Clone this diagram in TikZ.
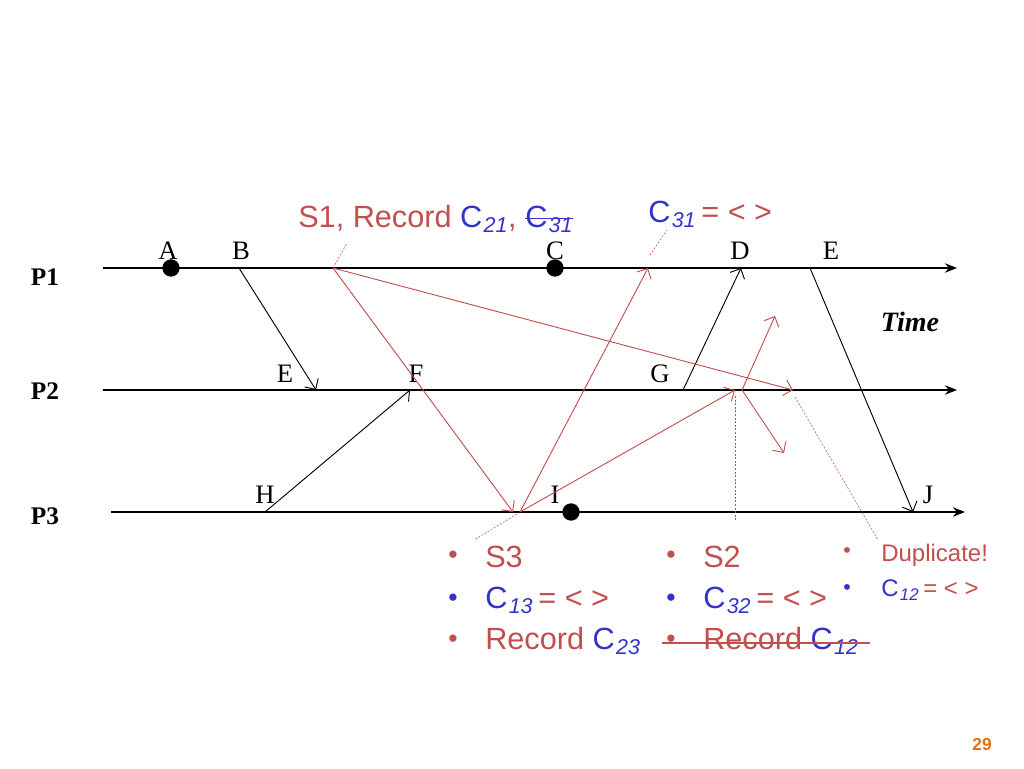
\documentclass[tikz,border=0pt]{standalone}
\usepackage{fontspec}
\setmainfont{Liberation Serif}
\setsansfont{Liberation Sans}
\definecolor{rd}{RGB}{192,80,77}
\definecolor{bl}{RGB}{51,51,204}
\definecolor{org}{RGB}{230,110,20}
\newcommand\mystrike[1]{\setbox0\hbox{#1}\rlap{\usebox0}\rule[0.28em]{\wd0}{0.7pt}}
\newcommand\Cs[1]{\textcolor{bl}{C\kern1pt\textsubscript{\itshape #1}}}
\begin{document}
\begin{tikzpicture}[x=0.75pt,y=-0.75pt,
 tl/.style={line width=1.5pt,-{Stealth[length=9pt,width=7pt]}},
 bm/.style={->,>={Straight Barb[length=6pt]},line width=0.7pt},
 rm/.style={->,>={Straight Barb[length=6pt]},draw=rd,line width=0.7pt},
 dl/.style={draw=rd,dash pattern=on 1.5pt off 1.2pt,line width=0.4pt},
 lab/.style={font=\fontsize{20}{22}\selectfont,inner sep=0pt},
 pl/.style={font=\bfseries\fontsize{19}{22}\selectfont,inner sep=0pt},
 big/.style={font=\sffamily\fontsize{23}{24}\selectfont,inner sep=0pt,anchor=west},
 sm/.style={font=\sffamily\fontsize{18}{20}\selectfont,inner sep=0pt,anchor=west},
 bul/.style={font=\sffamily\fontsize{20}{20}\selectfont,inner sep=0pt},
 dot/.style={circle,fill=black,minimum width=13pt,minimum height=11pt,inner sep=0pt}]
\useasboundingbox (0,0) rectangle (1024,768);
\usetikzlibrary{arrows.meta}
% timelines
\coordinate (p1s) at (103,268); \coordinate (p1e) at (957,268);
\coordinate (p2s) at (103,390); \coordinate (p2e) at (957,390);
\coordinate (p3s) at (111,512); \coordinate (p3e) at (965,512);
\draw[tl] (p1s) -- (p1e);
\draw[tl] (p2s) -- (p2e);
\draw[tl] (p3s) -- (p3e);
\node[pl] (P1) at (45,277) {P1};
\node[pl] (P2) at (45,391) {P2};
\node[pl] (P3) at (45,516) {P3};
\node[font=\bfseries\itshape\fontsize{21}{22}\selectfont] (time) at (910,322) {Time};
% dots
\node[dot] (dA) at (171,268) {};
\node[dot] (dC) at (555,268) {};
\node[dot] (dI) at (571,512) {};
% labels
\node[lab] (A) at (168,251) {A};
\node[lab] (B) at (241,251) {B};
\node[lab] (C) at (555,251) {C};
\node[lab] (D) at (740,251) {D};
\node[lab] (E1) at (831,251) {E};
\node[lab] (E2) at (285,374) {E};
\node[lab] (F) at (416,374) {F};
\node[lab] (G) at (660,374) {G};
\node[lab] (H) at (265,495) {H};
\node[lab] (I) at (555,495) {I};
\node[lab] (J) at (928,495) {J};
% black messages
\coordinate (b1) at (239,268); \coordinate (e2) at (316,390);
\coordinate (h1) at (265,512); \coordinate (f1) at (410,390);
\coordinate (g1) at (683,390); \coordinate (d1) at (741,268);
\coordinate (ee) at (810,268); \coordinate (j1) at (913,512);
\draw[bm] (b1) -- (e2);
\draw[bm] (h1) -- (f1);
\draw[bm] (g1) -- (d1);
\draw[bm] (ee) -- (j1);
% red markers
\coordinate (s1) at (333,268); \coordinate (s3a) at (513,512);
\coordinate (s3) at (520,512); \coordinate (m1) at (793,390);
\coordinate (c31) at (648,268); \coordinate (s2a) at (735,390);
\coordinate (s2) at (742,390); \coordinate (u1) at (775,316);
\coordinate (u2) at (784,453);
\draw[rm] (s1) -- (s3a);
\draw[rm] (s1) -- (m1);
\draw[rm] (s3) -- (c31);
\draw[rm] (s3) -- (s2a);
\draw[rm] (s2) -- (u1);
\draw[rm] (s2) -- (u2);
% dotted callouts
\coordinate (k1) at (347,243); \coordinate (k2) at (650,255); \coordinate (k2b) at (667,230);
\coordinate (k3) at (517,514); \coordinate (k3b) at (474,540);
\coordinate (k4) at (735,396); \coordinate (k4b) at (735,520);
\coordinate (k5) at (795,397); \coordinate (k5b) at (878,540);
\draw[dl] (s1) -- (k1);
\draw[dl] (k2) -- (k2b);
\draw[dl] (k3) -- (k3b);
\draw[dl] (k4) -- (k4b);
\draw[dl] (k5) -- (k5b);
% top texts
\node[big,text=rd] (t1) at (298,219) {S1, Record \Cs{21}, \textcolor{bl}{\mystrike{C\kern1pt\textsubscript{\itshape 31}}}};
\node[big,text=rd] (t2) at (648,214) {\Cs{31}\,= < >};
% bottom lists
\foreach \y/\c in {557/rd,600/bl,641/rd}{\node[bul,text=\c] at (453,\y) {•};}
\node[big,text=rd] (l1) at (485,557) {S3};
\node[big,text=rd] (l2) at (485,600) {\Cs{13}\,= < >};
\node[big,text=rd] (l3) at (485,641) {Record \Cs{23}};
\foreach \y/\c in {557/rd,600/bl,641/rd}{\node[bul,text=\c] at (671,\y) {•};}
\node[big,text=rd] (m1t) at (703,557) {S2};
\node[big,text=rd] (m2t) at (703,600) {\Cs{32}\,= < >};
\node[big,text=rd] (m3t) at (703,641) {Record \Cs{12}};
\coordinate (st1) at (662,643); \coordinate (st2) at (870,643);
\draw[rd,line width=1pt] (st1) -- (st2);
\foreach \y/\c in {553/rd,590/bl}{\node[font=\sffamily\fontsize{16}{16}\selectfont,inner sep=0pt,text=\c] at (847,\y) {•};}
\node[sm,text=rd] (r1) at (881,555) {Duplicate!};
\node[sm,text=rd] (r2) at (881,590) {\Cs{12}\,= < >};
\node[text=org,font=\sffamily\bfseries\fontsize{13}{14}\selectfont] (num) at (982,745) {29};
\end{tikzpicture}
\end{document}
